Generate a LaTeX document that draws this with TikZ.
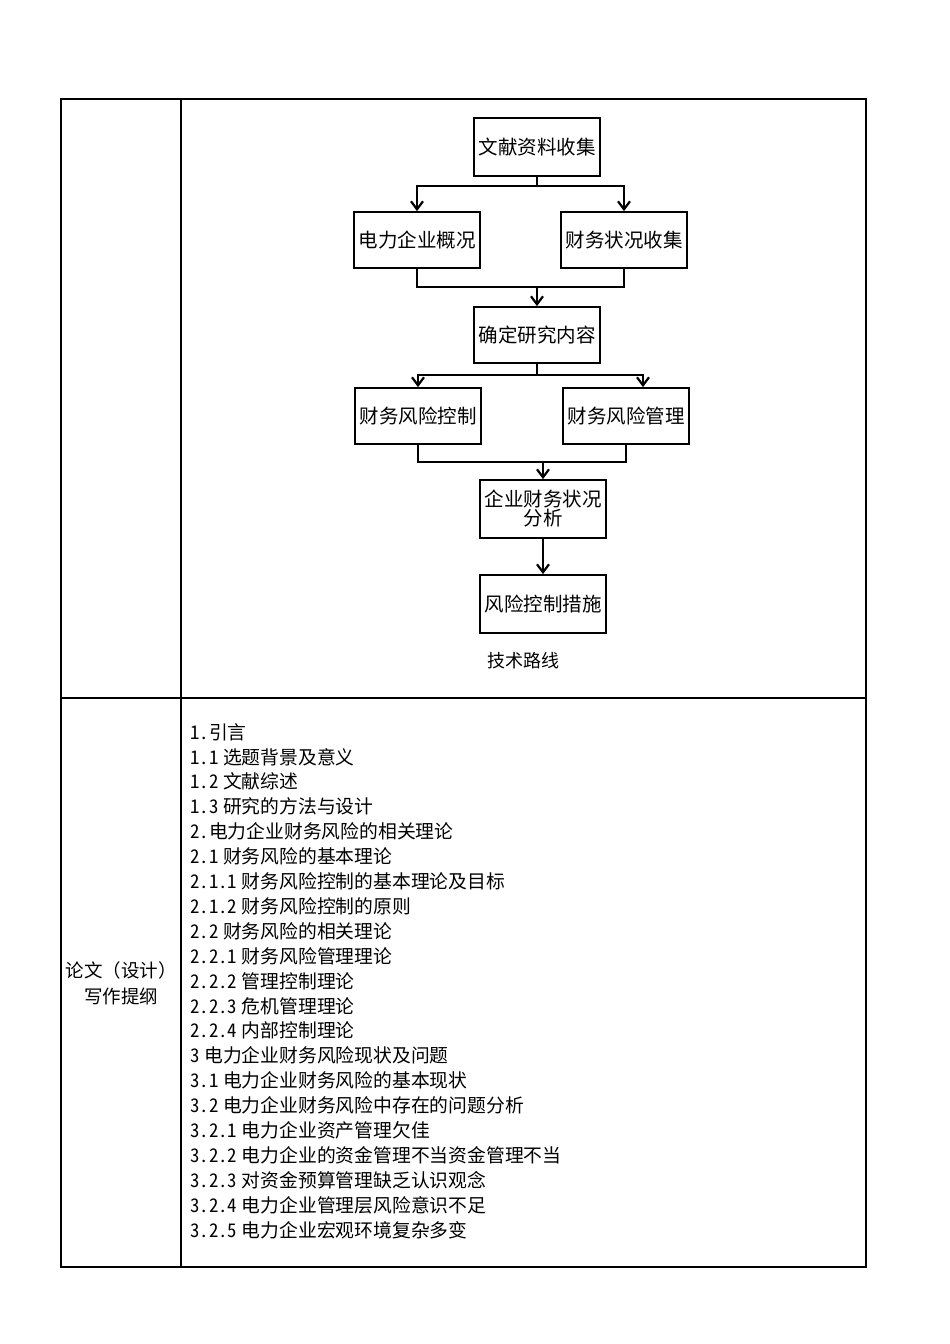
\documentclass[tikz,border=0pt]{standalone}
\usepackage{fontspec}
\setmainfont{Noto Sans CJK SC}
\newfontfamily\outfont[CharacterWidth=Half,WordSpace=0.5]{Noto Sans CJK SC}
\usetikzlibrary{positioning,calc,arrows.meta}

\begin{document}
\begin{tikzpicture}[
    x=1pt, y=-1pt,
    frame/.style={draw=black, line width=2.2pt},
    grid/.style={draw=black, line width=1.6pt},
    box/.style={draw=black, line width=1.8pt, minimum width=126pt, minimum height=56pt,
                inner sep=1pt, align=center, font=\fontsize{19.5}{22}\selectfont},
    line/.style={draw=black, line width=1.8pt},
    arr/.style={line, -{Straight Barb[length=8pt,width=12pt,line width=2.2pt]}},
    caption/.style={font=\fontsize{18}{22}\selectfont},
    outline/.style={anchor=west, inner sep=0pt, font=\outfont\fontsize{18.8}{22}\selectfont},
    rowhead/.style={align=center, font=\fontsize{18.5}{26}\selectfont}
]
\useasboundingbox (0,0) rectangle (950,1344);

% Table
\draw[frame] (61,99) rectangle (866,1267);
\draw[grid] (181,99) -- (181,1267);
\draw[grid] (61,698) -- (866,698);

% Technical route
\node[box, minimum height=58pt] (wx) at (537,147) {文献资料收集};
\node[box] (gk) at (417,240) {电力企业概况};
\node[box] (cw) at (624,240) {财务状况收集};
\node[box] (qd) at (537,335) {确定研究内容};
\node[box] (kz) at (418,416) {财务风险控制};
\node[box] (gl) at (626,416) {财务风险管理};
\node[box, minimum height=58pt] (fx) at (543,509) {企业财务状况\\[-3pt]分析};
\node[box, minimum height=58pt] (cs) at (543,604) {风险控制措施};
\node[caption] (route) at (523,661) {技术路线};

\coordinate (j1) at (537,186);
\coordinate (j2) at (537,287);
\coordinate (j3) at (537,375);
\coordinate (j4) at (543,462);

\draw[line] (wx.south) -- (j1);
\draw[arr] (j1) -| (gk.north);
\draw[arr] (j1) -| (cw.north);
\draw[line] (gk.south) |- (j2) -| (cw.south);
\draw[arr] (j2) -- (qd.north);
\draw[line] (qd.south) -- (j3);
\draw[arr] (j3) -| (kz.north);
\draw[arr] (j3) -| ([xshift=17pt]gl.north);
\draw[line] (kz.south) |- (j4) -| (gl.south);
\draw[arr] (j4) -- (fx.north);
\draw[arr] (fx) -- (cs);

% Outline
\node[rowhead] (head) at (121,983) {论文（设计）\\写作提纲};

\foreach \t [count=\i from 0] in {
    1.引言,
    1.1 选题背景及意义,
    1.2 文献综述,
    1.3 研究的方法与设计,
    2.电力企业财务风险的相关理论,
    2.1 财务风险的基本理论,
    2.1.1 财务风险控制的基本理论及目标,
    2.1.2 财务风险控制的原则,
    2.2 财务风险的相关理论,
    2.2.1 财务风险管理理论,
    2.2.2 管理控制理论,
    2.2.3 危机管理理论,
    2.2.4 内部控制理论,
    3 电力企业财务风险现状及问题,
    3.1 电力企业财务风险的基本现状,
    3.2 电力企业财务风险中存在的问题分析,
    3.2.1 电力企业资产管理欠佳,
    3.2.2 电力企业的资金管理不当资金管理不当,
    3.2.3 对资金预算管理缺乏认识观念,
    3.2.4 电力企业管理层风险意识不足,
    3.2.5 电力企业宏观环境复杂多变} {
    \node[outline] (o\i) at (190, 732+24.9*\i) {\t};
}

\end{tikzpicture}
\end{document}
